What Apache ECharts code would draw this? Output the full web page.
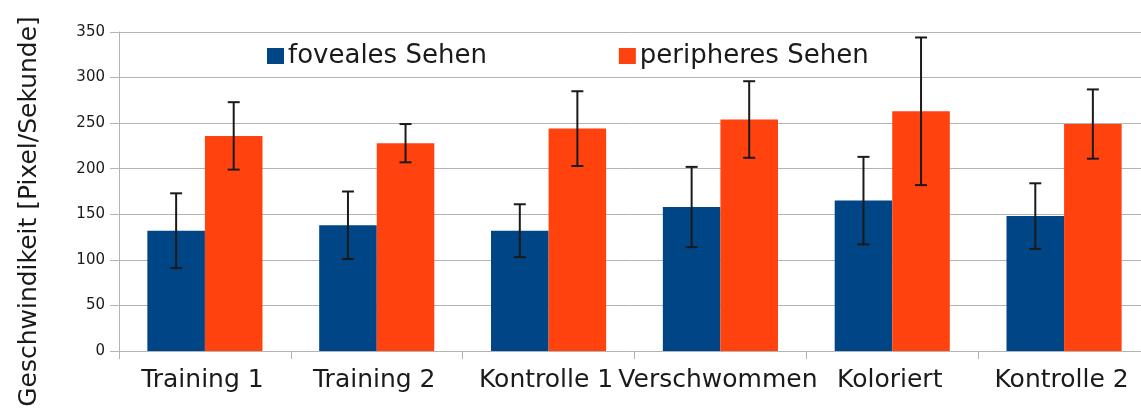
<!DOCTYPE html>
<html>
<head>
<meta charset="utf-8">
<script src="https://cdn.jsdelivr.net/npm/echarts@6/dist/echarts.min.js"></script>
<style>
  html, body { margin: 0; padding: 0; background: #fff; }
  #chart { width: 1141px; height: 410px; }
</style>
</head>
<body>
<div id="chart"></div>
<script>
// Conditions on the category axis
const categories = ['Training 1', 'Training 2', 'Kontrolle 1', 'Verschwommen', 'Koloriert', 'Kontrolle 2'];

// Mean speed in pixels per second and the error (± range) for each condition
const fovealMean = [132, 138, 132, 158, 165, 148];
const fovealErr = [41, 37, 29, 44, 48, 36];
const peripheralMean = [236, 228, 244, 254, 263, 249];
const peripheralErr = [37, 21, 41, 42, 81, 38];

const yTicks = { min: 0, max: 350, interval: 50 };

const FONT = 'DejaVu Sans';
const BAR_FRACTION = 0.335;

function errorData(means, errs) {
  return means.map((m, i) => [i, m - errs[i], m + errs[i]]);
}

// Whisker drawn over one bar of the group; side = -1 (left bar) or +1 (right bar)
function makeErrorRenderer(side) {
  return function (params, api) {
    const idx = api.value(0);
    const lo = api.coord([idx, api.value(1)]);
    const hi = api.coord([idx, api.value(2)]);
    const band = api.size([1, 0])[0];
    const x = lo[0] + side * band * BAR_FRACTION / 2;
    const cap = 6;
    const style = { stroke: '#1a1a1a', lineWidth: 2 };
    return {
      type: 'group',
      children: [
        { type: 'line', shape: { x1: x, y1: hi[1], x2: x, y2: lo[1] }, style },
        { type: 'line', shape: { x1: x - cap, y1: hi[1], x2: x + cap, y2: hi[1] }, style },
        { type: 'line', shape: { x1: x - cap, y1: lo[1], x2: x + cap, y2: lo[1] }, style }
      ]
    };
  };
}

const chart = echarts.init(document.getElementById('chart'), null, { renderer: 'canvas' });

chart.setOption({
  animation: false,
  backgroundColor: '#ffffff',
  textStyle: { fontFamily: FONT },
  grid: { left: 119, right: -9, top: 32, bottom: 59, containLabel: false, outerBoundsMode: 'none' },
  legend: {
    data: ['foveales Sehen', 'peripheres Sehen'],
    left: 267,
    top: 43,
    padding: 0,
    itemWidth: 17,
    itemHeight: 16,
    itemGap: 132,
    icon: 'rect',
    textStyle: { fontFamily: FONT, fontSize: 26, color: '#1a1a1a', padding: [0, 0, 0, -1] }
  },
  xAxis: {
    type: 'category',
    data: categories,
    boundaryGap: true,
    axisLine: { lineStyle: { color: '#b3b3b3', width: 1 } },
    axisTick: { show: true, length: 8, lineStyle: { color: '#b3b3b3' } },
    axisLabel: { fontFamily: FONT, fontSize: 25, color: '#1a1a1a', margin: 17, interval: 0, padding: [0, 5, 0, 0] },
    splitLine: { show: false }
  },
  yAxis: {
    type: 'value',
    min: yTicks.min,
    max: yTicks.max,
    interval: yTicks.interval,
    name: 'Geschwindikeit [Pixel/Sekunde]',
    nameLocation: 'middle',
    nameGap: 77,
    nameRotate: 90,
    nameTextStyle: { fontFamily: FONT, fontSize: 25, color: '#1a1a1a', padding: [0, 40, 0, 0] },
    axisLine: { show: true, lineStyle: { color: '#b3b3b3', width: 1 } },
    axisTick: { show: true, length: 9, lineStyle: { color: '#b3b3b3' } },
    axisLabel: { fontFamily: FONT, fontSize: 15, color: '#1a1a1a', margin: 14 },
    splitLine: { show: true, lineStyle: { color: '#b3b3b3', width: 1 } }
  },
  series: [
    {
      name: 'foveales Sehen',
      type: 'bar',
      data: fovealMean,
      barWidth: (BAR_FRACTION * 100) + '%',
      barGap: '0%',
      itemStyle: { color: '#004586' }
    },
    {
      name: 'peripheres Sehen',
      type: 'bar',
      data: peripheralMean,
      barWidth: (BAR_FRACTION * 100) + '%',
      barGap: '0%',
      itemStyle: { color: '#ff420e' }
    },
    {
      name: 'fovealErr',
      type: 'custom',
      renderItem: makeErrorRenderer(-1),
      data: errorData(fovealMean, fovealErr),
      encode: { x: 0, y: [1, 2] },
      z: 10,
      silent: true
    },
    {
      name: 'peripheralErr',
      type: 'custom',
      renderItem: makeErrorRenderer(1),
      data: errorData(peripheralMean, peripheralErr),
      encode: { x: 0, y: [1, 2] },
      z: 10,
      silent: true
    }
  ]
});
</script>
</body>
</html>
